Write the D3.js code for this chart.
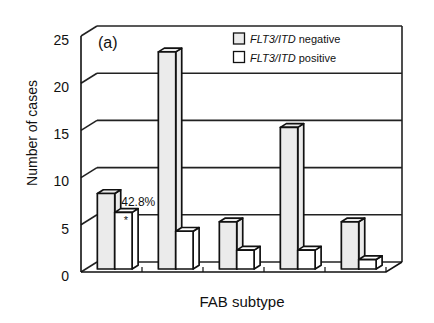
<!DOCTYPE html>
<html>
<head>
<meta charset="utf-8">
<script src="https://cdn.jsdelivr.net/npm/d3@7"></script>
<style>
  html, body { margin: 0; padding: 0; background: #fff; }
  svg { display: block; font-family: "Liberation Sans", Arial, sans-serif; }
</style>
</head>
<body>
<div id="chart"></div>
<script>
// data
const categories = ["M0", "M1", "M2", "M4", "M5"]; // FAB subtypes (not labelled in the figure)
const negativeCases = [8, 23, 5, 15, 5];
const positiveCases = [6, 4, 2, 2, 1];
const yTicks = [0, 5, 10, 15, 20, 25];
const seriesNames = ["negative", "positive"];

const width = 434, height = 323;
const svg = d3.select("#chart").append("svg")
    .attr("width", width).attr("height", height)
    .attr("viewBox", `0 0 ${width} ${height}`);

// front plane scales + oblique depth offset
const x = d3.scaleBand().domain(categories).range([81, 386])
    .paddingInner(0.43).paddingOuter(0.215).align(0.44);
const x1 = d3.scaleBand().domain(seriesNames).range([0, x.bandwidth()]);
const y = d3.scaleLinear().domain([0, 25]).range([272, 36]);
const DX = 16, DY = 10;           // floor depth
const P = (px, v, z) => [px + z * DX, y(v) - z * DY];

const stroke = "#111";
const g = svg.append("g");

// back wall gridlines + side wall diagonals
yTicks.forEach(v => {
    const [bx, by] = P(x.range()[0], v, 1);
    const [ex] = P(x.range()[1], v, 1);
    g.append("line").attr("x1", bx).attr("y1", by).attr("x2", ex).attr("y2", by)
        .attr("stroke", "#222").attr("stroke-width", 1.6);
    const [fx, fy] = P(x.range()[0], v, 0);
    g.append("line").attr("x1", fx).attr("y1", fy).attr("x2", bx).attr("y2", by)
        .attr("stroke", "#222").attr("stroke-width", 1.6);
    // y tick labels
    svg.append("text").attr("x", 69).attr("y", fy + 5)
        .attr("text-anchor", "end").attr("dominant-baseline", "middle")
        .attr("font-size", 14).attr("fill", "#111").text(v);
});

// back wall right edge
{
    const [tx, ty] = P(x.range()[1], 25, 1);
    const [, by] = P(x.range()[1], 0, 1);
    g.append("line").attr("x1", tx).attr("y1", ty).attr("x2", tx).attr("y2", by)
        .attr("stroke", "#222").attr("stroke-width", 1.6);
}

// front vertical axis
g.append("line").attr("x1", x.range()[0]).attr("y1", y(25)).attr("x2", x.range()[0]).attr("y2", y(0))
    .attr("stroke", stroke).attr("stroke-width", 1.6);

// front floor edge + right diagonal
{
    const [ax, ay] = P(x.range()[0], 0, 0);
    const [bx, by] = P(x.range()[1], 0, 0);
    const [cx, cy] = P(x.range()[1], 0, 1);
    g.append("path").attr("d", `M${ax},${ay}L${bx},${by}L${cx},${cy}`)
        .attr("fill", "none").attr("stroke", stroke).attr("stroke-width", 1.6);
    // category boundary ticks
    const step = x.step();
    d3.range(1, categories.length + 1).forEach(i => {
        const tx = x.range()[0] + i * step;
        g.append("line").attr("x1", tx).attr("y1", y(0)).attr("x2", tx).attr("y2", y(0) - 5)
            .attr("stroke", stroke).attr("stroke-width", 1.2);
    });
}

// 3D bars
const z0 = 0.3, z1 = 0.3 + 6 / DX;
const barColors = { negative: "#ebebeb", positive: "#ffffff" };
function bar(xl, w, v, fill) {
    const xr = xl + w;
    const f = [P(xl, 0, z0), P(xr, 0, z0), P(xr, v, z0), P(xl, v, z0)];
    const top = [P(xl, v, z0), P(xr, v, z0), P(xr, v, z1), P(xl, v, z1)];
    const side = [P(xr, 0, z0), P(xr, 0, z1), P(xr, v, z1), P(xr, v, z0)];
    const poly = pts => "M" + pts.map(p => p.join(",")).join("L") + "Z";
    [side, top, f].forEach(pts => {
        g.append("path").attr("d", poly(pts)).attr("fill", fill)
            .attr("stroke", stroke).attr("stroke-width", 1.7).attr("stroke-linejoin", "round");
    });
}
categories.forEach((c, i) => {
    bar(x(c) + x1("negative"), x1.bandwidth(), negativeCases[i], barColors.negative);
    bar(x(c) + x1("positive"), x1.bandwidth(), positiveCases[i], barColors.positive);
});

// annotation on first group
{
    const c = categories[0];
    const [px] = P(x(c) + x1("positive"), positiveCases[0], z0);
    svg.append("text").attr("x", px + 6.5).attr("y", 206)
        .attr("font-size", 12).attr("fill", "#111").text("42.8%");
    svg.append("text").attr("x", px + 9).attr("y", 224)
        .attr("font-size", 11).attr("fill", "#111").text("*");
}

// panel label
svg.append("text").attr("x", 98).attr("y", 48).attr("font-size", 16).attr("fill", "#111").text("(a)");

// legend
seriesNames.forEach((s, i) => {
    const ly = 33 + i * 18.5;
    svg.append("rect").attr("x", 233.5).attr("y", ly).attr("width", 11).attr("height", 11)
        .attr("fill", barColors[s]).attr("stroke", stroke).attr("stroke-width", 1.3);
    const t = svg.append("text").attr("x", 250).attr("y", ly + 10).attr("font-size", 11).attr("fill", "#111");
    t.append("tspan").attr("font-style", "italic").text("FLT3/ITD");
    t.append("tspan").text(" " + s);
});

// axis titles
svg.append("text").attr("transform", "translate(37,133) rotate(-90)")
    .attr("text-anchor", "middle").attr("font-size", 14).attr("fill", "#111").text("Number of cases");
svg.append("text").attr("x", 242).attr("y", 307)
    .attr("text-anchor", "middle").attr("font-size", 15).attr("fill", "#111").text("FAB subtype");
</script>
</body>
</html>
